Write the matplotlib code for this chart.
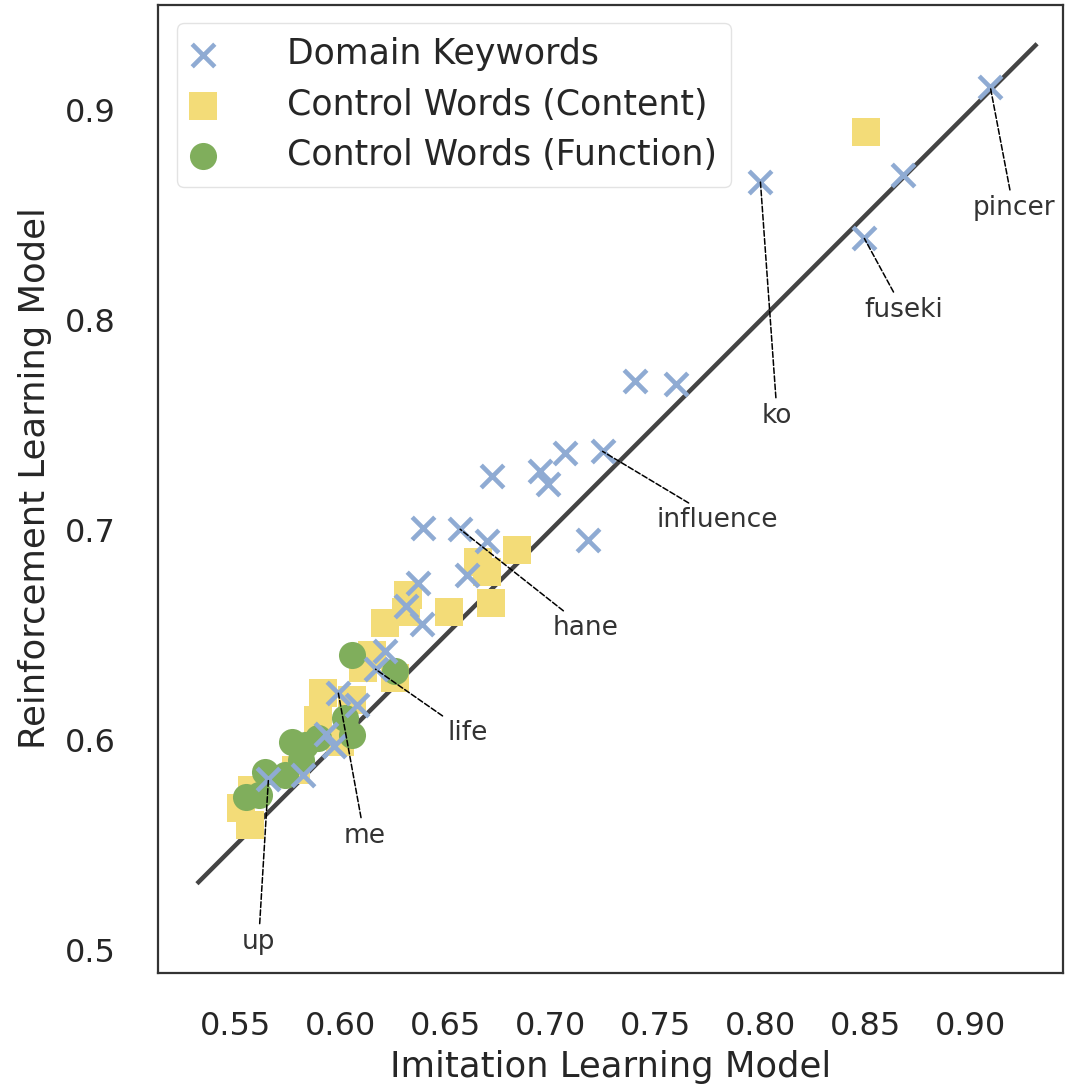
import matplotlib
matplotlib.use("Agg")
import matplotlib.pyplot as plt
import numpy as np

# Per-word similarity scores under the two models
keyword_il = [0.9095, 0.868, 0.8495, 0.800, 0.7405, 0.760, 0.7248, 0.7067, 0.6952,
              0.699, 0.6724, 0.718, 0.6395, 0.657, 0.670, 0.6605, 0.6367, 0.6314,
              0.6386, 0.621, 0.6167, 0.599, 0.608, 0.5933, 0.5967, 0.5824, 0.5657]
keyword_rl = [0.911, 0.869, 0.839, 0.866, 0.771, 0.7695, 0.7376, 0.7367, 0.7281,
              0.7219, 0.7257, 0.6952, 0.701, 0.7005, 0.6948, 0.6786, 0.6748, 0.6638,
              0.6552, 0.6424, 0.6338, 0.6224, 0.6167, 0.6029, 0.5971, 0.5833, 0.5814]

content_il = [0.8505, 0.6843, 0.6657, 0.6719, 0.6519, 0.621, 0.6324, 0.6152, 0.6105,
              0.5919, 0.6057, 0.600, 0.5895, 0.5524, 0.5567, 0.5581, 0.5786, 0.6262,
              0.670, 0.631]
content_rl = [0.8895, 0.6905, 0.6848, 0.6652, 0.661, 0.6557, 0.669, 0.6405, 0.6343,
              0.6224, 0.619, 0.599, 0.6095, 0.5676, 0.5595, 0.5762, 0.5857, 0.6295,
              0.680, 0.661]

function_il = [0.6057, 0.6262, 0.6024, 0.6057, 0.5771, 0.5833, 0.581, 0.5738, 0.5643,
               0.5552, 0.561, 0.5895]
function_rl = [0.6405, 0.6329, 0.6105, 0.6024, 0.599, 0.5976, 0.5905, 0.5833, 0.5848,
               0.5729, 0.5738, 0.601]

# Labelled keywords: (word, index into keyword arrays, label position)
labels = ["pincer", "fuseki", "ko", "influence", "hane", "life", "me", "up"]
label_idx = [0, 2, 3, 6, 13, 20, 21, 26]
label_x = [0.9205, 0.8681, 0.808, 0.7795, 0.7167, 0.6605, 0.6114, 0.561]
label_y = [0.8533, 0.8048, 0.7543, 0.7048, 0.6533, 0.6033, 0.5543, 0.5038]

x_ticks = [0.55, 0.60, 0.65, 0.70, 0.75, 0.80, 0.85, 0.90]
y_ticks = [0.5, 0.6, 0.7, 0.8, 0.9]

text_color = "#262626"
plt.rcParams["font.family"] = ["DejaVu Sans"]
plt.rcParams["text.color"] = text_color
plt.rcParams["axes.labelcolor"] = text_color
plt.rcParams["xtick.color"] = text_color
plt.rcParams["ytick.color"] = text_color

fig = plt.figure(figsize=(10.66, 10.85), dpi=100)
ax = fig.add_axes([0.148, 0.103, 0.849, 0.892])

all_vals = keyword_il + keyword_rl + content_il + content_rl + function_il + function_rl
lo, hi = min(all_vals) - 0.02, max(all_vals) + 0.02
ax.plot([lo, hi], [lo, hi], color="#444444", lw=3.2, zorder=1)

ax.scatter(content_il, content_rl, marker="s", s=380, color="#f3dc78",
           linewidths=0, zorder=2, label="Control Words (Content)")
ax.scatter(function_il, function_rl, marker="o", s=380, color="#80ae5c",
           linewidths=0, zorder=3, label="Control Words (Function)")
ax.scatter(keyword_il, keyword_rl, marker="x", s=265, color="#8fabd3",
           linewidths=3.3, zorder=4, label="Domain Keywords")

for word, i, tx, ty in zip(labels, label_idx, label_x, label_y):
    ax.annotate(word, xy=(keyword_il[i], keyword_rl[i]), xytext=(tx, ty),
                ha="center", va="center", fontsize=19, color="#333333", zorder=6,
                arrowprops=dict(arrowstyle="-", linestyle="--", color="black",
                                lw=1.1, shrinkA=2, shrinkB=0))

ax.set_xlim(0.513, 0.944)
ax.set_ylim(0.489, 0.950)
ax.set_xticks(x_ticks)
ax.set_xticklabels([f"{v:.2f}" for v in x_ticks])
ax.set_yticks(y_ticks)
ax.set_yticklabels([f"{v:.1f}" for v in y_ticks])
ax.tick_params(length=0, labelsize=23)
ax.tick_params(axis="x", pad=27)
ax.tick_params(axis="y", pad=30)
ax.set_xlabel("Imitation Learning Model", fontsize=25.5, labelpad=6)
ax.set_ylabel("Reinforcement Learning Model", fontsize=25.5)
ax.yaxis.set_label_coords(-0.117, 0.512)

for sp in ax.spines.values():
    sp.set_color("#333333")
    sp.set_linewidth(1.6)

handles, names = ax.get_legend_handles_labels()
order = [2, 0, 1]
leg = ax.legend([handles[k] for k in order], [names[k] for k in order],
                loc="upper left", fontsize=25, scatterpoints=1,
                handlelength=0.65, handletextpad=2.1, borderpad=0.42,
                labelspacing=0.47, borderaxespad=0,
                frameon=True, fancybox=True, framealpha=0.8,
                edgecolor="#dddddd", bbox_to_anchor=(0.021, 0.982))

fig.savefig("out.png", dpi=100, facecolor="white")
